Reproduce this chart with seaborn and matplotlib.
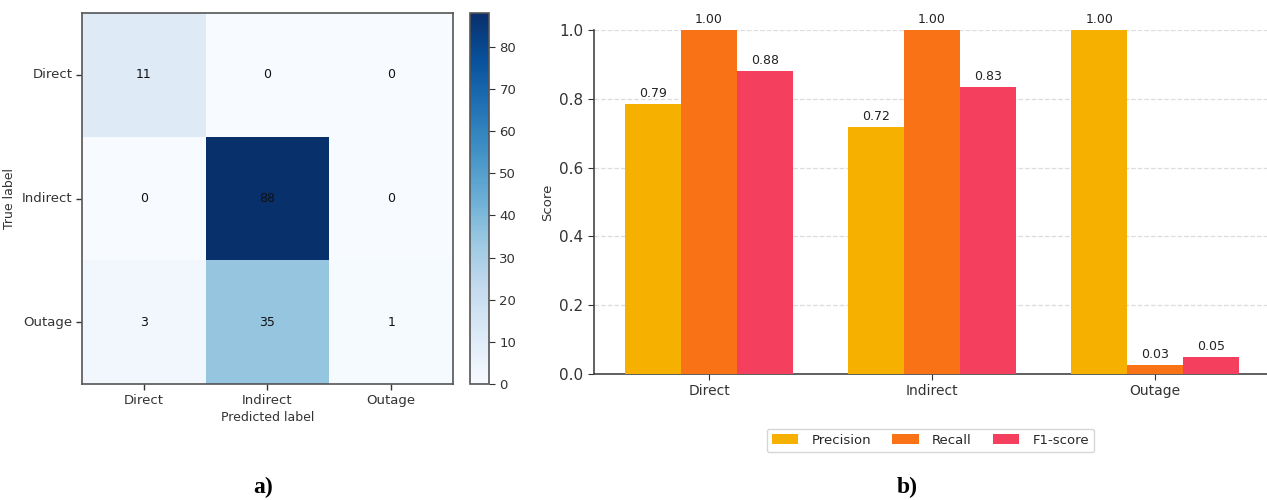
import numpy as np
import pandas as pd
import matplotlib
matplotlib.use("Agg")
import matplotlib.pyplot as plt
import seaborn as sns

# Confusion matrix (rows: true label, cols: predicted label)
classes = ["Direct", "Indirect", "Outage"]
cm_direct = [11, 0, 0]
cm_indirect = [0, 88, 0]
cm_outage = [3, 35, 1]

# Per-class metrics
metric_names = ["Precision", "Recall", "F1-score"]
precision = [0.785, 0.717, 1.00]
recall = [1.00, 1.00, 0.026]
f1_score = [0.88, 0.835, 0.05]
metric_colors = ["#F5B000", "#F97316", "#F43F5E"]

sns.set_style("white")
plt.rcParams["font.family"] = ["DejaVu Sans"]

W, H = 1267, 500
fig = plt.figure(figsize=(W / 100, H / 100), dpi=100)


def box(x0, y0, x1, y1):
    return [x0 / W, (H - y1) / H, (x1 - x0) / W, (y1 - y0) / H]


# ---- a) confusion matrix ----
ax1 = fig.add_axes(box(82, 13, 453, 384))
cax = fig.add_axes(box(470, 13, 489, 384))
cm = pd.DataFrame([cm_direct, cm_indirect, cm_outage], index=classes, columns=classes)
sns.heatmap(cm, ax=ax1, cbar_ax=cax, cmap="Blues", vmin=0, vmax=88,
            annot=True, fmt="d", annot_kws={"size": 9, "color": "#111111"},
            linewidths=0, square=False)
ax1.set_xlabel("Predicted label", fontsize=9, color="#333333", labelpad=3)
ax1.set_ylabel("True label", fontsize=9, color="#333333")
ax1.tick_params(axis="both", which="both", length=4, width=1, labelsize=9.5,
                colors="#333333", left=True, bottom=True, pad=3)
ax1.set_yticklabels(classes, rotation=0)
ax1.set_xticklabels(classes, rotation=0)
for sp in ax1.spines.values():
    sp.set_visible(True)
    sp.set_color("#555555")
    sp.set_linewidth(1.2)
cax.tick_params(labelsize=9.5, colors="#333333", length=4)
cax.set_yticks([0, 10, 20, 30, 40, 50, 60, 70, 80])
cbar = ax1.collections[0].colorbar
cbar.outline.set_visible(True)
cbar.outline.set_edgecolor("#555555")
cbar.outline.set_linewidth(1.2)

# ---- b) per-class metrics ----
ax2 = fig.add_axes(box(594, 30, 1267, 374))
df = pd.DataFrame({
    "Class": classes * 3,
    "Metric": [m for m in metric_names for _ in classes],
    "Score": precision + recall + f1_score,
})
sns.barplot(data=df, x="Class", y="Score", hue="Metric", hue_order=metric_names,
            palette=metric_colors, width=0.75, saturation=1, ax=ax2, zorder=3,
            linewidth=0, edgecolor="none", legend=True)
for cont in ax2.containers:
    ax2.bar_label(cont, fmt="%.2f", padding=3, fontsize=9, color="#222222")
ax2.set_ylim(0, 1.0)
ax2.set_xlim(-0.516, 2.502)
ax2.set_yticks([0.0, 0.2, 0.4, 0.6, 0.8, 1.0])
ax2.yaxis.grid(True, linestyle="--", color="#dddddd", linewidth=0.9, zorder=0)
ax2.set_axisbelow(True)
ax2.set_xlabel("")
ax2.set_ylabel("Score", fontsize=9.5, color="#333333")
ax2.tick_params(axis="y", labelsize=11, colors="#333333", length=4, left=True)
ax2.tick_params(axis="x", labelsize=10, colors="#333333", length=4, bottom=True)
for side in ["top", "right"]:
    ax2.spines[side].set_visible(False)
for side in ["left", "bottom"]:
    ax2.spines[side].set_color("#444444")
    ax2.spines[side].set_linewidth(1.2)
handles, labels = ax2.get_legend_handles_labels()
ax2.legend(handles, labels, loc="upper center", bbox_to_anchor=(0.5, -0.14),
           ncol=3, frameon=True, fontsize=9.5, handlelength=2.0, handleheight=0.8,
           columnspacing=1.6, handletextpad=1.0, edgecolor="#cccccc",
           fancybox=True, borderpad=0.4)

# ---- panel captions ----
fig.text(263 / W, 1 - 487 / H, "a)", ha="center", va="center", fontsize=17,
         fontweight="bold", family="Liberation Serif", color="black")
fig.text(907 / W, 1 - 487 / H, "b)", ha="center", va="center", fontsize=17,
         fontweight="bold", family="Liberation Serif", color="black")

fig.savefig("out.png", dpi=100)
